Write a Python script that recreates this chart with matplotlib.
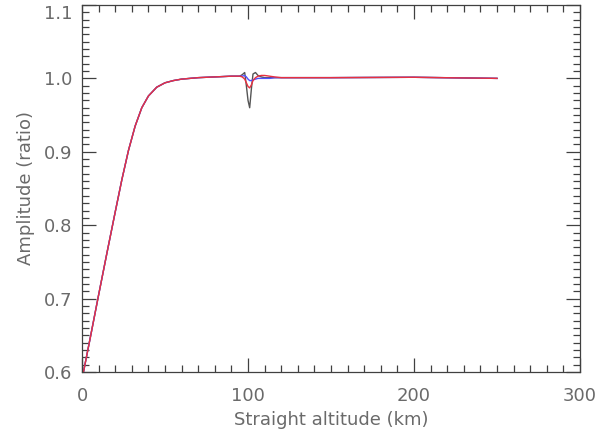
import numpy as np
import matplotlib.pyplot as plt
from matplotlib.ticker import MultipleLocator

# altitude grid (km) shared by the three profiles
altitude = [0, 5, 10, 15, 20, 24, 28, 32, 36, 40, 45, 50, 55, 60, 70, 80, 90,
            95, 96.5, 98, 99, 100, 101, 102, 103, 104.5, 106, 108, 110, 113,
            116, 120, 150, 200, 250]

rise = [0.590, 0.647, 0.705, 0.762, 0.818, 0.862, 0.902, 0.935, 0.960, 0.976,
        0.988, 0.994, 0.997, 0.999, 1.001, 1.002, 1.003]
tail = [1.001, 1.001, 1.0015, 1.000]

amp_black = rise + [1.003, 1.005, 1.008, 0.990, 0.970, 0.960, 0.985, 1.006,
                    1.008, 1.004, 1.002, 1.001, 1.001, 1.001] + tail
amp_red = rise + [1.003, 1.002, 0.999, 0.994, 0.989, 0.987, 0.991, 0.997,
                  1.001, 1.003, 1.004, 1.004, 1.003, 1.002] + tail
amp_blue = rise + [1.003, 1.003, 1.004, 1.002, 0.999, 0.997, 0.997, 0.998,
                   0.999, 1.000, 1.000, 1.000, 1.000, 1.001] + tail

txt = '#6a6a6a'
frame = '#404040'

fig = plt.figure(figsize=(6, 4.41), dpi=100)
ax = fig.add_axes([0.1367, 0.1565, 0.83, 0.8322])

ax.plot(altitude, amp_black, color='#555555', lw=1.0)
ax.plot(altitude, amp_blue, color='#5050ff', lw=1.0)
ax.plot(altitude, amp_red, color='#e83040', lw=1.0)

ax.set_xlim(0, 300)
ax.set_ylim(0.6, 1.1)
ax.xaxis.set_major_locator(MultipleLocator(100))
ax.xaxis.set_minor_locator(MultipleLocator(10))
ax.yaxis.set_major_locator(MultipleLocator(0.1))
ax.yaxis.set_minor_locator(MultipleLocator(0.01))
ax.yaxis.set_major_formatter(lambda v, pos: f'{v:.1f}')

ax.tick_params(which='both', direction='in', top=True, right=True,
               color=frame, width=0.9, labelcolor=txt, labelsize=13)
ax.tick_params(which='major', length=10)
ax.tick_params(which='minor', length=5)
ax.tick_params(axis='x', pad=11)
ax.tick_params(axis='y', pad=7)
for s in ax.spines.values():
    s.set_color(frame)
    s.set_linewidth(0.9)

ax.set_xlabel('Straight altitude (km)', color=txt, fontsize=13, labelpad=4)
ax.set_ylabel('Amplitude (ratio)', color=txt, fontsize=13, labelpad=6)

# top label sits just below the frame edge, as in the original
fig.canvas.draw()
for lab in ax.get_yticklabels():
    if lab.get_text() == '1.1':
        lab.set_verticalalignment('top')

fig.savefig('out.png', dpi=100)
